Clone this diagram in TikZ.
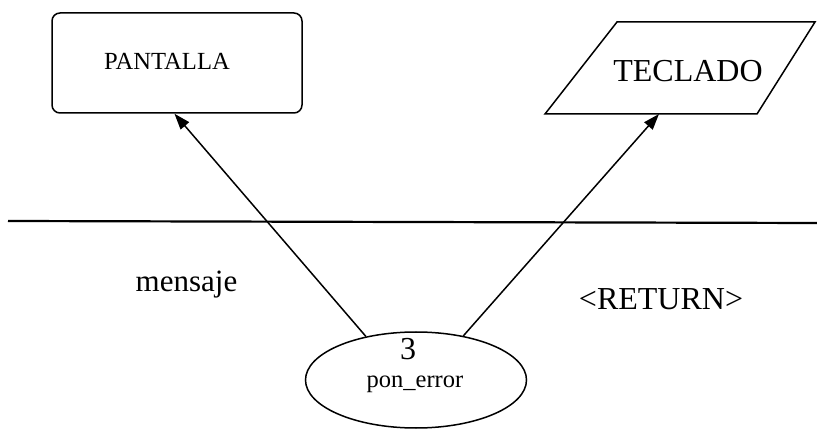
\documentclass[tikz,border=0pt]{standalone}
\usepackage{fontspec}
\setmainfont{Liberation Serif}
\usetikzlibrary{shapes.geometric,arrows.meta,calc}
\begin{document}
\begin{tikzpicture}[x=1pt,y=-1pt,
  shape line/.style={draw,line width=1.5pt},
  pbox/.style={shape line,rectangle,rounded corners=8pt,minimum width=250pt,minimum height=100pt,inner sep=0pt},
  procnode/.style={shape line,ellipse,minimum width=221pt,minimum height=96pt,inner sep=0pt},
  lbl/.style={inner sep=0pt,anchor=base},
  arr/.style={line width=1.5pt,-{Triangle[length=16pt,width=11pt]}},
  sep line/.style={line width=2.2pt}]
\useasboundingbox (0,0) rectangle (817,430);
% PANTALLA
\node[pbox] (pant) at (177,63) {};
\node[lbl] (pantt) at (167,70) {\fontsize{24.6}{28}\selectfont PANTALLA};
% TECLADO
\coordinate (t1) at (545,114);
\coordinate (t2) at (757,114);
\coordinate (t3) at (815,22);
\coordinate (t4) at (617,22);
\draw[line width=1.5pt] (t1) -- (t2) -- (t3) -- (t4) -- cycle;
\node[lbl] (tec) at (688,82) {\fontsize{32}{36}\selectfont TECLADO};
\coordinate (tecb) at (659,114);
% separator
\coordinate (sl) at (8,221);
\coordinate (sr) at (817,223);
\draw[sep line] (sl) -- (sr);
% process
\node[procnode] (pe) at (416,380) {};
\node[lbl] (num) at (408,360) {\fontsize{32}{36}\selectfont 3};
\node[lbl] (pname) at (415,388) {\fontsize{24.5}{28}\selectfont pon\_error};
% labels
\node[lbl] (msg) at (186.5,292) {\fontsize{31}{34}\selectfont mensaje};
\node[lbl] (ret) at (661,310) {\fontsize{32}{36}\selectfont <RETURN>};
% arrows
\draw[arr] (pe.139.4) -- ($(pant.south west)!0.49!(pant.south east)$);
\draw[arr] (pe.43.3) -- (tecb);
\end{tikzpicture}
\end{document}
